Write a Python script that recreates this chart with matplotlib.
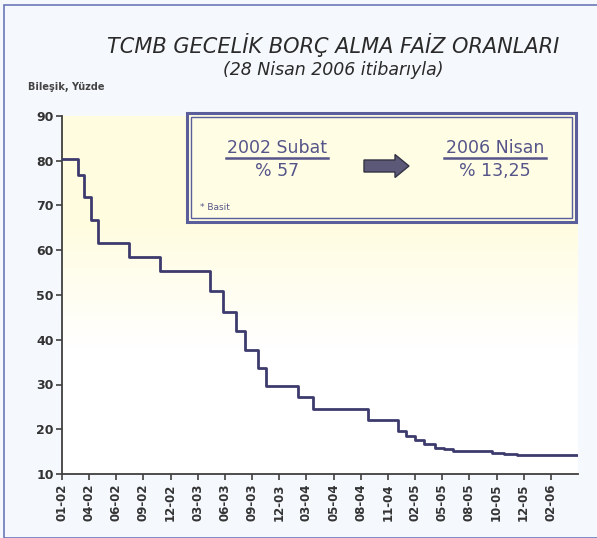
import numpy as np
import matplotlib.pyplot as plt
from matplotlib.patches import Rectangle, FancyArrow

# step change points (position on category axis, compound rate %)
step_x = [0.0, 0.60, 0.81, 1.07, 1.31, 2.47, 3.61, 5.46, 5.91, 6.39, 6.72, 7.20, 7.50,
          8.70, 9.23, 11.27, 12.38, 12.66, 12.99, 13.32, 13.73, 14.06, 14.40, 15.85,
          16.27, 16.76, 18.98]
step_y = [80.5, 76.8, 71.8, 66.8, 61.7, 58.4, 55.3, 50.8, 46.2, 42.0, 37.8, 33.6, 29.6,
          27.3, 24.5, 22.1, 19.6, 18.4, 17.6, 16.7, 15.9, 15.5, 15.2, 14.8,
          14.5, 14.2, 14.2]
tick_labels = ["01-02", "04-02", "06-02", "09-02", "12-02", "03-03", "06-03", "09-03",
               "12-03", "03-04", "05-04", "08-04", "11-04", "02-05", "05-05", "08-05",
               "10-05", "12-05", "02-06"]

W, H = 597, 538
fig = plt.figure(figsize=(W / 100, H / 100), dpi=100)
fig.patch.set_facecolor("#f5f8fc")

# thin frame round the slide
fig.patches.append(Rectangle((4 / W, 0), 1.0, 1 - 5 / H, transform=fig.transFigure,
                             fill=False, edgecolor="#6a78b8", linewidth=1.2))

ax = fig.add_axes([62 / W, 1 - 474 / H, (578 - 62) / W, (474 - 116) / H])
ax.set_xlim(0, 19)
ax.set_ylim(10, 90)

# pale yellow fading to white in the plot area
grad = np.ones((256, 1, 4))
t = np.linspace(0, 1, 256)
alpha = np.clip((t - 0.35) / 0.35, 0, 1)
grad[:, 0, 1] = 1 - 0.01 * alpha
grad[:, 0, 2] = 1 - 0.12 * alpha
ax.imshow(grad, extent=(0, 19, 10, 90), aspect="auto", origin="lower", zorder=0)

ax.step(step_x, step_y, where="post", color="#3d3b6e", linewidth=2.0, zorder=3)

for s in ["top", "right"]:
    ax.spines[s].set_visible(False)
for s in ["left", "bottom"]:
    ax.spines[s].set_color("#404040")
    ax.spines[s].set_linewidth(1.3)

ax.set_yticks(range(10, 91, 10))
ax.set_xticks(range(len(tick_labels)))
ax.set_xticklabels(tick_labels, rotation=90)
ax.tick_params(axis="y", labelsize=9, colors="#404040", length=4, width=1.2, pad=2)
ax.tick_params(axis="x", labelsize=8.5, colors="#404040", length=4, width=1.2, pad=3)
for lab in ax.get_xticklabels() + ax.get_yticklabels():
    lab.set_fontweight("bold")
    lab.set_color("#333333")

# titles
fig.text(333 / W, 1 - 45 / H, "TCMB GECELİK BORÇ ALMA FAİZ ORANLARI", ha="center", va="center",
         fontsize=15, style="italic", color="#2a2a2a", family="DejaVu Sans")
fig.text(333 / W, 1 - 70 / H, "(28 Nisan 2006 itibarıyla)", ha="center", va="center",
         fontsize=12.5, style="italic", color="#2a2a2a", family="DejaVu Sans")
fig.text(28 / W, 1 - 87 / H, "Bileşik, Yüzde", ha="left", va="center",
         fontsize=7, fontweight="bold", color="#444444")

# info box
bx0, by0, bx1, by1 = 187, 113, 576, 222
fig.patches.append(Rectangle((bx0 / W, 1 - by1 / H), (bx1 - bx0) / W, (by1 - by0) / H,
                             transform=fig.transFigure, facecolor="#fffde4",
                             edgecolor="#5a5e9a", linewidth=2.2, zorder=5))
fig.patches.append(Rectangle(((bx0 + 4) / W, 1 - (by1 - 4) / H), (bx1 - bx0 - 8) / W,
                             (by1 - by0 - 8) / H, transform=fig.transFigure, fill=False,
                             edgecolor="#5a5e9a", linewidth=1.0, zorder=6))

txt_col = "#55558a"
for cx, head, val in [(277, "2002 Subat", "% 57"), (495, "2006 Nisan", "% 13,25")]:
    fig.text(cx / W, 1 - 148 / H, head, ha="center", va="center", fontsize=12.5,
             color=txt_col, zorder=7)
    fig.add_artist(plt.Line2D([(cx - 51) / W, (cx + 51) / W], [1 - 158 / H, 1 - 158 / H],
                              transform=fig.transFigure, color=txt_col, linewidth=1.8, zorder=7))
    fig.text(cx / W, 1 - 171 / H, val, ha="center", va="center", fontsize=12.5,
             color=txt_col, zorder=7)

fig.patches.append(FancyArrow(364 / W, 1 - 166 / H, 45 / W, 0, width=12 / H,
                              head_width=23 / H, head_length=14 / W, length_includes_head=True,
                              transform=fig.transFigure, facecolor="#5c5878",
                              edgecolor="#333344", linewidth=1.0, zorder=7))
fig.text(200 / W, 1 - 208 / H, "* Basit", ha="left", va="center", fontsize=6.5,
         color=txt_col, zorder=7)

fig.savefig("out.png", dpi=100, facecolor=fig.get_facecolor())
